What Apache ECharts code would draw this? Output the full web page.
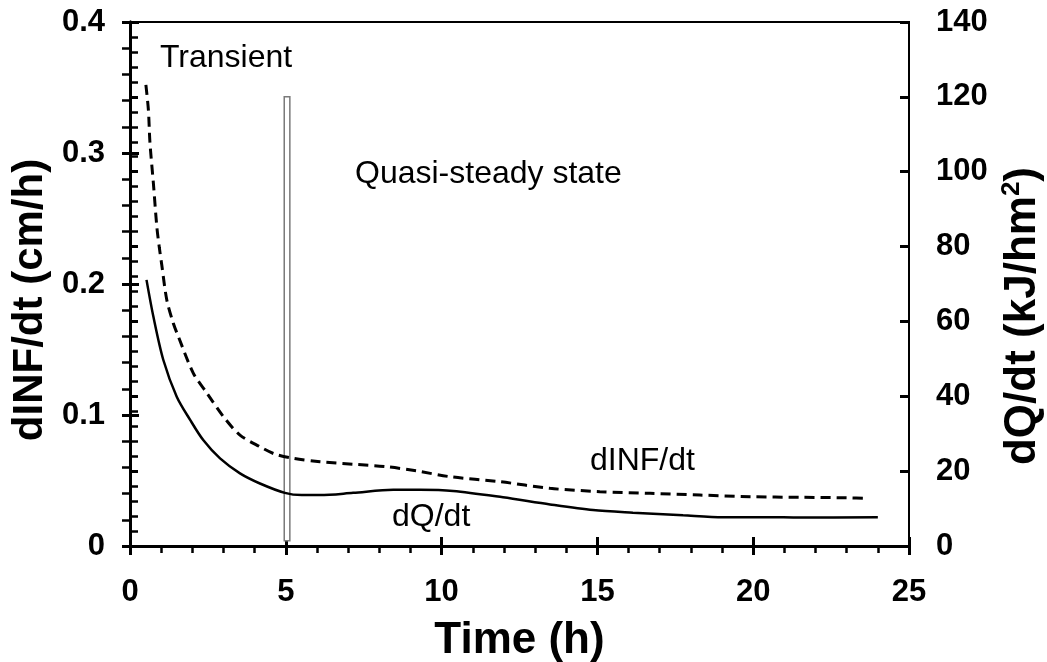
<!DOCTYPE html>
<html>
<head>
<meta charset="utf-8">
<script src="https://cdn.jsdelivr.net/npm/echarts@6/dist/echarts.min.js"></script>
<style>
  html, body { margin: 0; padding: 0; background: #fff; }
  #main { width: 1047px; height: 662px; }
</style>
</head>
<body>
<div id="main"></div>
<script>
// dINF/dt (cm/h), left axis
var infTime = [0.51, 0.59, 0.64, 0.75, 0.86, 0.94, 1.02, 1.18, 1.39, 1.55, 2.03, 2.46, 3.0, 3.53, 4.17, 4.65, 5.24, 6.1, 7.17, 8.24, 9.2, 10.27, 11.87, 13.48, 15.08, 16.69, 18.29, 19.9, 21.5, 23.0, 23.7];
var infRate = [0.352, 0.333, 0.308, 0.277, 0.244, 0.228, 0.2145, 0.188, 0.170, 0.160, 0.132, 0.117, 0.0987, 0.0847, 0.0758, 0.0702, 0.0669, 0.0643, 0.0624, 0.0605, 0.0573, 0.0529, 0.0491, 0.044, 0.0415, 0.0402, 0.0389, 0.0376, 0.0372, 0.0368, 0.0364];
// dQ/dt (kJ/hm2), right axis
var qTime = [0.53, 0.75, 1.07, 1.5, 1.93, 2.35, 2.89, 3.53, 4.17, 4.97, 5.51, 6.1, 7.16, 8.45, 9.3, 10.37, 11.97, 13.48, 14.86, 16.14, 17.75, 19.03, 20.44, 21.5, 24.0];
var qRate = [71.1, 61.3, 49.7, 39.9, 33.7, 28.3, 23.4, 19.4, 16.7, 14.2, 13.6, 13.6, 14.2, 15.0, 15.0, 14.7, 13.0, 11.1, 9.6, 8.9, 8.2, 7.7, 7.7, 7.6, 7.7];
// transient / quasi-steady divider box (h, cm/h)
var boxX = [4.95, 5.13];
var boxY = [0.004, 0.343];

var FONT = 'Liberation Sans, Arial, sans-serif';

function pairs(xs, ys) {
  return xs.map(function (x, i) { return [x, ys[i]]; });
}

var chart = echarts.init(document.getElementById('main'));

var lineAxis = { show: true, lineStyle: { color: '#000', width: 3 } };
var tickLabel = { color: '#000', fontFamily: FONT, fontWeight: 'bold', fontSize: 31 };
var nameStyle = { color: '#000', fontFamily: FONT, fontWeight: 'bold', fontSize: 42 };

chart.setOption({
  backgroundColor: '#fff',
  animation: false,
  grid: {
    left: 130, right: 138, top: 22, bottom: 116,
    outerBoundsMode: 'none', containLabel: false,
    show: true, borderColor: '#000', borderWidth: 2, backgroundColor: 'transparent'
  },
  xAxis: [
    {
      type: 'value', min: 0, max: 25, interval: 5, position: 'bottom',
      name: 'Time (h)', nameLocation: 'middle', nameGap: 73,
      nameTextStyle: Object.assign({}, nameStyle, { fontSize: 44 }),
      axisLine: lineAxis,
      axisTick: { show: true, inside: false, length: 9, lineStyle: { color: '#000', width: 3 } },
      minorTick: { show: true, splitNumber: 5, length: 7, lineStyle: { color: '#000', width: 2.5 } },
      axisLabel: Object.assign({ margin: 31 }, tickLabel),
      splitLine: { show: false }
    },
    {
      type: 'value', min: 0, max: 25, interval: 5, position: 'bottom',
      axisLine: { show: false },
      axisTick: { show: true, inside: true, length: 9, lineStyle: { color: '#000', width: 3 } },
      axisLabel: { show: false },
      splitLine: { show: false }
    }
  ],
  yAxis: [
    {
      type: 'value', min: 0, max: 0.4, interval: 0.1, position: 'left',
      name: 'dINF/dt (cm/h)', nameLocation: 'middle', nameGap: 78, nameRotate: 90,
      nameTextStyle: Object.assign({ padding: [0, 32, 0, 0] }, nameStyle),
      axisLine: lineAxis,
      axisTick: { show: true, inside: false, length: 8, lineStyle: { color: '#000', width: 3 } },
      minorTick: { show: true, splitNumber: 5, length: 8, lineStyle: { color: '#000', width: 2.5 } },
      axisLabel: Object.assign({ margin: 25 }, tickLabel),
      splitLine: { show: false }
    },
    {
      type: 'value', min: 0, max: 140, interval: 20, position: 'right',
      name: 'dQ/dt (kJ/hm{sup|2})', nameLocation: 'middle', nameGap: 89, nameRotate: 90,
      nameTextStyle: {
        color: '#000', fontFamily: FONT, fontWeight: 'bold', fontSize: 44,
        padding: [0, 64, 0, 0],
        rich: { sup: { fontFamily: FONT, fontWeight: 'bold', fontSize: 26, padding: [0, 0, 22, 0] } }
      },
      axisLine: lineAxis,
      axisTick: { show: true, inside: false, length: 8, lineStyle: { color: '#000', width: 3 } },
      minorTick: { show: true, splitNumber: 5, length: 8, lineStyle: { color: '#000', width: 2.5 } },
      axisLabel: Object.assign({ margin: 27 }, tickLabel),
      splitLine: { show: false }
    },
    {
      type: 'value', min: 0, max: 0.4, interval: 0.1, position: 'left',
      axisLine: { show: false },
      axisTick: { show: true, inside: true, length: 9, lineStyle: { color: '#000', width: 3 } },
      axisLabel: { show: false },
      splitLine: { show: false }
    },
    {
      type: 'value', min: 0, max: 140, interval: 20, position: 'right',
      axisLine: { show: false },
      axisTick: { show: true, inside: true, length: 9, lineStyle: { color: '#000', width: 3 } },
      axisLabel: { show: false },
      splitLine: { show: false }
    }
  ],
  series: [
    {
      name: 'dINF/dt', type: 'line', yAxisIndex: 0, smooth: 0.3,
      data: pairs(infTime, infRate), symbol: 'none',
      lineStyle: { color: '#000', width: 3, type: [10, 6] }, z: 3
    },
    {
      name: 'dQ/dt', type: 'line', yAxisIndex: 1, smooth: 0.3,
      data: pairs(qTime, qRate), symbol: 'none',
      lineStyle: { color: '#000', width: 2.5 }, z: 3
    },
    {
      name: 'divider', type: 'line', yAxisIndex: 0, data: [], z: 5,
      markArea: {
        silent: true,
        itemStyle: { color: '#fff', borderColor: '#7a7a7a', borderWidth: 1.5 },
        data: [[{ xAxis: boxX[0], yAxis: boxY[0] }, { xAxis: boxX[1], yAxis: boxY[1] }]]
      }
    }
  ],
  graphic: [
    { type: 'text', z: 10, style: { x: 160, y: 58, verticalAlign: 'middle', text: 'Transient', font: '32px ' + FONT, fill: '#000' } },
    { type: 'text', z: 10, style: { x: 355, y: 174, verticalAlign: 'middle', text: 'Quasi-steady state', font: '32px ' + FONT, fill: '#000' } },
    { type: 'text', z: 10, style: { x: 590, y: 461, verticalAlign: 'middle', text: 'dINF/dt', font: '32px ' + FONT, fill: '#000' } },
    { type: 'text', z: 10, style: { x: 392, y: 517, verticalAlign: 'middle', text: 'dQ/dt', font: '32px ' + FONT, fill: '#000' } }
  ]
});
</script>
</body>
</html>
